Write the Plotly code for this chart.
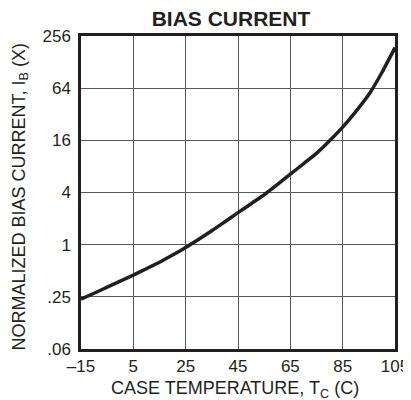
import plotly.graph_objects as go
import math

temperature_c = [-15, -10, -5, 0, 5, 10, 15, 20, 25, 30, 35, 40, 45, 50, 55,
                 60, 65, 70, 75, 80, 85, 90, 95, 100, 105]
bias_current_norm = [0.235, 0.275, 0.323, 0.379, 0.445, 0.528, 0.627, 0.758, 0.93, 1.157,
                     1.45, 1.84, 2.34, 2.97, 3.77, 4.92, 6.5, 8.58, 11.3, 15.8,
                     22.7, 34.3, 54, 97, 188]

x_tick_vals = [-15, 5, 25, 45, 65, 85, 105]
x_tick_text = ["\u201315", "5", "25", "45", "65", "85", "105"]
y_tick_vals = [0.0625, 0.25, 1, 4, 16, 64, 256]
y_tick_text = [".06", ".25", "1", "4", "16", "64", "256"]

FONT = "Liberation Sans, Arial, Helvetica, sans-serif"
PAGE_OFFSET = 8  # default body margin of the html page

W, H = 411 - PAGE_OFFSET, 400 - PAGE_OFFSET
L, R, T, B = 81 - PAGE_OFFSET, 16, 36 - PAGE_OFFSET, 51

fig = go.Figure()
fig.add_trace(go.Scatter(
    x=temperature_c, y=bias_current_norm, mode="lines",
    line=dict(color="#231f20", width=3.5, shape="spline", smoothing=0.6),
    showlegend=False, hoverinfo="skip"))

fig.update_layout(
    width=W, height=H,
    margin=dict(l=L, r=R, t=T, b=B, autoexpand=False),
    paper_bgcolor="white", plot_bgcolor="white",
    font=dict(family=FONT, color="#231f20", size=17),
    title=dict(text="<b>BIAS CURRENT</b>", x=(231 - PAGE_OFFSET) / W, xanchor="center",
               y=1 - (19 - PAGE_OFFSET) / H, yanchor="middle", font=dict(size=21, family=FONT),
               automargin=False),
    xaxis=dict(range=[-15, 105], tickvals=x_tick_vals, ticktext=x_tick_text,
               showgrid=True, gridcolor="#58595b", gridwidth=1.3,
               showline=True, linecolor="#231f20", linewidth=2.5, mirror=True,
               ticks="", tickfont=dict(size=17), zeroline=False, automargin=False,
               ticklabeloverflow="allow"),
    yaxis=dict(type="log", range=[math.log10(0.0625), math.log10(256)],
               tickvals=y_tick_vals, ticktext=y_tick_text,
               showgrid=True, gridcolor="#58595b", gridwidth=1.3,
               showline=True, linecolor="#231f20", linewidth=2.5, mirror=True,
               ticks="", tickfont=dict(size=17), ticklabelstandoff=4, zeroline=False,
               automargin=False),
    annotations=[
        dict(text="CASE TEMPERATURE, T<sub>C</sub> (C)", xref="paper", yref="paper",
             x=0.5, y=0, xanchor="center", yanchor="middle", xshift=-3, yshift=-40,
             showarrow=False, font=dict(size=18)),
        dict(text="NORMALIZED BIAS CURRENT, I<sub>B</sub> (X)", xref="paper", yref="paper",
             x=0, y=0.5, xanchor="center", yanchor="middle", xshift=-61, yshift=-5,
             textangle=-90, showarrow=False, font=dict(size=18)),
    ],
)

fig.write_html("out.html")
